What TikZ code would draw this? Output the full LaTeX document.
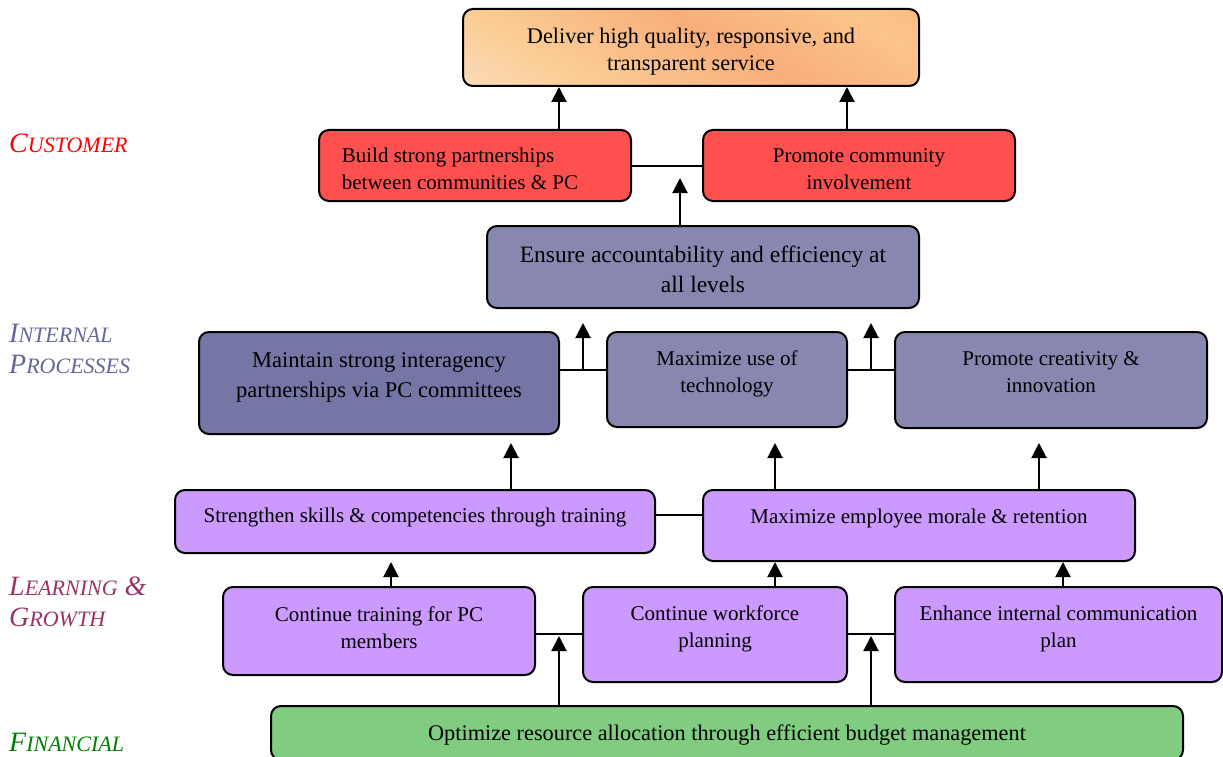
\documentclass[tikz,border=0pt]{standalone}
\usepackage{fontspec}
\setmainfont{Liberation Serif}
\usetikzlibrary{arrows.meta}
\definecolor{redbox}{HTML}{FF5050}
\definecolor{ipbox}{HTML}{8787B0}
\definecolor{ipdark}{HTML}{7676A6}
\definecolor{lgbox}{HTML}{CC99FF}
\definecolor{finbox}{HTML}{80CC80}
\definecolor{custc}{HTML}{FF0000}
\definecolor{ipc}{HTML}{66669A}
\definecolor{lgc}{HTML}{993366}
\definecolor{finc}{HTML}{008000}
\pgfdeclareverticalshading{peachshade}{100bp}{
  color(0bp)=(rgb,255:red,252;green,232;blue,226);
  color(30bp)=(rgb,255:red,251;green,206;blue,150);
  color(55bp)=(rgb,255:red,249;green,174;blue,122);
  color(75bp)=(rgb,255:red,251;green,196;blue,138);
  color(100bp)=(rgb,255:red,249;green,176;blue,120)}
\newcommand\boxtxt[3]{\raisebox{#1}[\height][\depth]{\begin{tabular}{@{}#2@{}}#3\end{tabular}}}
\newcommand\smc[1]{{\fontsize{22}{31}\selectfont #1}}
\tikzset{
  box/.style={draw=black, line width=2pt, rounded corners=10pt, inner sep=0pt,
    font=\fontsize{21}{27}\selectfont},
  midtxt/.style={font=\fontsize{22.3}{27}\selectfont},
  bigtxt/.style={font=\fontsize{23.5}{30}\selectfont},
  maintxt/.style={font=\fontsize{22.5}{30}\selectfont},
  link/.style={line width=2pt},
  arr/.style={line width=2pt, -{Triangle[width=15pt,length=15pt]}},
  lbl/.style={anchor=north west, align=left, inner sep=0pt, font=\itshape\fontsize{28}{31}\selectfont}
}
\begin{document}
\begin{tikzpicture}[x=1pt,y=-1pt]
\useasboundingbox (0,0) rectangle (1223,757);
% labels
\node[lbl, text=custc] (lcust) at (9,134) {C\smc{USTOMER}};
\node[lbl, text=ipc] (lip) at (9,324) {I\smc{NTERNAL}\\P\smc{ROCESSES}};
\node[lbl, text=lgc] (llg) at (9,577) {L\smc{EARNING} \&\\G\smc{ROWTH}};
\node[lbl, text=finc] (lfin) at (9,733) {F\smc{INANCIAL}};
% top
\node[box, midtxt, minimum width=456, minimum height=77, shading=peachshade, shading angle=-30] (top) at (691,47.5)
  {\boxtxt{-4pt}{c}{Deliver high quality, responsive, and\\transparent service}};
% customer
\node[box, fill=redbox, minimum width=312, minimum height=71] (build) at (475,165.5)
  {\boxtxt{-5pt}{l@{\hspace{30pt}}}{Build strong partnerships\\between communities \& PC}};
\node[box, fill=redbox, minimum width=312, minimum height=71] (prom) at (859,165.5)
  {\boxtxt{-5pt}{c}{Promote community\\involvement}};
% internal processes
\node[box, bigtxt, fill=ipbox, minimum width=432, minimum height=82] (ens) at (703,267)
  {\boxtxt{-4pt}{c}{Ensure accountability and efficiency at\\all levels}};
\node[box, maintxt, fill=ipdark, minimum width=360, minimum height=102] (main) at (379,383)
  {\boxtxt{7pt}{c}{Maintain strong interagency\\partnerships via PC committees}};
\node[box, fill=ipbox, minimum width=240, minimum height=95] (tech) at (727,379.5)
  {\boxtxt{6pt}{c}{Maximize use of\\technology}};
\node[box, fill=ipbox, minimum width=312, minimum height=96] (creat) at (1051,380)
  {\boxtxt{6pt}{c}{Promote creativity \&\\innovation}};
% learning & growth
\node[box, fill=lgbox, minimum width=480, minimum height=63] (str) at (415,521.5)
  {\boxtxt{4pt}{c}{Strengthen skills \& competencies through training}};
\node[box, fill=lgbox, minimum width=432, minimum height=71] (memp) at (919,525.5)
  {\boxtxt{7pt}{c}{Maximize employee morale \& retention}};
\node[box, fill=lgbox, minimum width=312, minimum height=88] (cont) at (379,631)
  {\boxtxt{1.5pt}{c}{Continue training for PC\\members}};
\node[box, fill=lgbox, minimum width=264, minimum height=95] (work) at (715,634.5)
  {\boxtxt{5.5pt}{c}{Continue workforce\\planning}};
\node[box, fill=lgbox, minimum width=327, minimum height=95] (enh) at (1058.5,634.5)
  {\boxtxt{5.5pt}{c}{Enhance internal communication\\plan}};
% financial
\node[box, midtxt, fill=finbox, minimum width=912, minimum height=54] (fin) at (727,733)
  {\boxtxt{-2pt}{c}{Optimize resource allocation through efficient budget management}};
% helper coordinates
\coordinate (tipA) at (0,443);
\coordinate (tipB) at (0,562);
\coordinate (j0) at (680,166);
\coordinate (j1) at (583,370);
\coordinate (j2) at (871,370);
\coordinate (j3) at (679,515);
\coordinate (j4) at (559,634);
\coordinate (j5) at (871,634);
% connectors: customer
\draw[arr] ([xshift=84pt]build.north) -- ([xshift=84pt]build.north |- top.south);
\draw[arr] ([xshift=-12pt]prom.north) -- ([xshift=-12pt]prom.north |- top.south);
\draw[link] (j0 -| build.east) -- (j0 -| prom.west);
\draw[arr] (j0 |- ens.north) -- ([yshift=-12pt]j0);
% internal
\draw[link] (j1 -| main.east) -- (j1 -| tech.west);
\draw[link] (j2 -| tech.east) -- (j2 -| creat.west);
\draw[arr] (j1) -- ([yshift=-14pt]j1 |- ens.south);
\draw[arr] (j2) -- ([yshift=-14pt]j2 |- ens.south);
% learning
\draw[link] (j3 -| str.east) -- (j3 -| memp.west);
\draw[arr] ([xshift=96pt]str.north) -- ([xshift=96pt]str.north |- tipA);
\draw[arr] ([xshift=-144pt]memp.north) -- ([xshift=-144pt]memp.north |- tipA);
\draw[arr] ([xshift=120pt]memp.north) -- ([xshift=120pt]memp.north |- tipA);
\draw[link] (j4 -| cont.east) -- (j4 -| work.west);
\draw[link] (j5 -| work.east) -- (j5 -| enh.west);
\draw[arr] ([xshift=12pt]cont.north) -- ([xshift=12pt]cont.north |- tipB);
\draw[arr] ([xshift=60pt]work.north) -- ([xshift=60pt]work.north |- tipB);
\draw[arr] ([xshift=4.5pt]enh.north) -- ([xshift=4.5pt]enh.north |- tipB);
% financial
\draw[arr] (j4 |- fin.north) -- ([yshift=-2pt]j4);
\draw[arr] (j5 |- fin.north) -- ([yshift=-2pt]j5);
\end{tikzpicture}
\end{document}
